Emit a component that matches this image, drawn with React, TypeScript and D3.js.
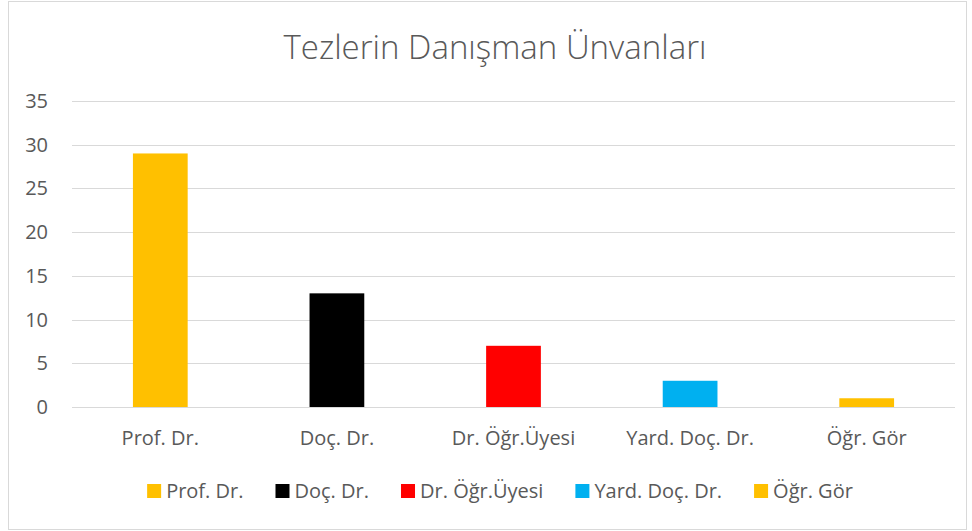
import React, { useEffect, useRef } from "react";
import * as d3 from "d3";

const categories = ["Prof. Dr.", "Doç. Dr.", "Dr. Öğr.Üyesi", "Yard. Doç. Dr.", "Öğr. Gör"];
const values = [29, 13, 7, 3, 1];
const colors = ["#FFC000", "#000000", "#FF0000", "#00B0F0", "#FFC000"];
const yTicks = [0, 5, 10, 15, 20, 25, 30, 35];
const title = "Tezlerin Danışman Ünvanları";

const width = 972;
const height = 531;
const font = "'Open Sans', 'Noto Sans', sans-serif";

export default function App() {
  const ref = useRef<SVGSVGElement>(null);

  useEffect(() => {
    document.body.style.margin = "0";
    const svg = d3.select(ref.current);
    svg.selectAll("*").remove();

    // chart frame
    svg.append("rect")
      .attr("x", 8.5).attr("y", 1.5)
      .attr("width", 958).attr("height", 528)
      .attr("fill", "white").attr("stroke", "#d9d9d9");

    const plot = { left: 72, right: 955, top: 101, bottom: 407 };

    const x = d3.scaleBand().domain(categories).range([plot.left, plot.right]).paddingInner(0.69).paddingOuter(0.345);
    const y = d3.scaleLinear().domain([0, 35]).range([plot.bottom, plot.top]);

    // gridlines
    svg.append("g").selectAll("line").data(yTicks).join("line")
      .attr("x1", plot.left).attr("x2", plot.right)
      .attr("y1", d => Math.round(y(d)) + 0.5).attr("y2", d => Math.round(y(d)) + 0.5)
      .attr("stroke", "#d9d9d9").attr("stroke-width", 1);

    // y labels
    svg.append("g").selectAll("text").data(yTicks).join("text")
      .attr("x", 48).attr("y", d => y(d))
      .attr("dy", "0.35em").attr("text-anchor", "end")
      .attr("font-family", font).attr("font-size", 20).attr("fill", "#595959")
      .text(d => d);

    // bars
    svg.append("g").selectAll("rect").data(values).join("rect")
      .attr("x", (d, i) => x(categories[i])!)
      .attr("width", x.bandwidth())
      .attr("y", d => y(d))
      .attr("height", d => y(0) - y(d))
      .attr("fill", (d, i) => colors[i]);

    // category labels
    svg.append("g").selectAll("text").data(categories).join("text")
      .attr("x", d => x(d)! + x.bandwidth() / 2).attr("y", 438)
      .attr("dy", "0.35em").attr("text-anchor", "middle")
      .attr("font-family", font).attr("font-size", 20).attr("fill", "#595959")
      .text(d => d);

    // title
    svg.append("text")
      .attr("x", 495).attr("y", 47).attr("dy", "0.35em")
      .attr("text-anchor", "middle")
      .attr("font-family", font).attr("font-size", 33).attr("font-weight", 300).attr("fill", "#595959")
      .text(title);

    // legend, measured then centered
    const legend = svg.append("g");
    const gap = 32;
    let cx = 0;
    categories.forEach((c, i) => {
      const item = legend.append("g").attr("transform", `translate(${cx},0)`);
      item.append("rect").attr("x", 0).attr("y", -7).attr("width", 14).attr("height", 14).attr("fill", colors[i]);
      const t = item.append("text").attr("x", 19).attr("dy", "0.35em")
        .attr("font-family", font).attr("font-size", 20).attr("fill", "#595959").text(c);
      const w = (t.node() as SVGTextElement).getComputedTextLength();
      cx += 19 + w + gap;
    });
    const total = cx - gap;
    legend.attr("transform", `translate(${500 - total / 2},491)`);
  }, []);

  return <svg ref={ref} width={width} height={height} style={{ display: "block" }} />;
}
